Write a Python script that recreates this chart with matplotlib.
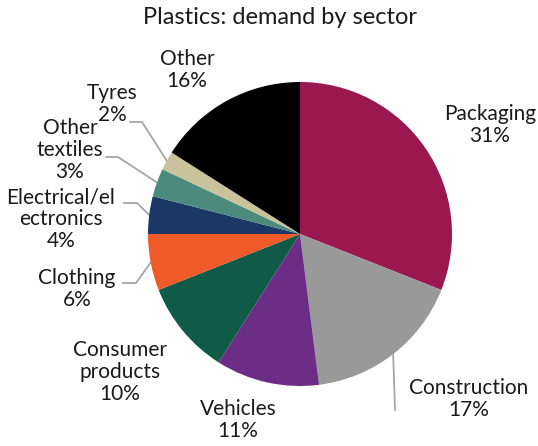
"""Pie chart: plastics demand by sector."""
import numpy as np
from matplotlib import pyplot as plt

sectors = ['Packaging', 'Construction', 'Vehicles', 'Consumer\nproducts', 'Clothing',
           'Electrical/el\nectronics', 'Other\ntextiles', 'Tyres', 'Other']
shares = [31, 17, 11, 10, 6, 4, 3, 2, 16]
colors = ['#9a1750', '#999999', '#6c2d86', '#0f5b48', '#f05a28',
          '#1b3766', '#4b8a7c', '#c9c29b', '#000000']

plt.rcParams['font.family'] = ['Lato', 'DejaVu Sans']

W, H = 538, 446
fig = plt.figure(figsize=(W / 100, H / 100), dpi=100)
ax = fig.add_axes([0, 0, 1, 1])


def py(y):
    """pixel row from top -> axis y"""
    return H - y


cx, cy, r = 300, 234, 152
ax.pie(shares, colors=colors, startangle=90, counterclock=False,
       center=(cx, py(cy)), radius=r, frame=True,
       wedgeprops={'linewidth': 0})
ax.set_xlim(0, W)
ax.set_ylim(0, H)
ax.set_aspect('equal')
ax.axis('off')

# label position (pixels) and leader line elbow
label_pos = {
    0: (490, 125), 1: (469, 399), 2: (238, 420), 3: (120, 372),
    4: (77, 289), 5: (61, 219), 6: (70, 150), 7: (112, 104), 8: (187, 70),
}
leaders = {
    1: [(395, 410)],
    4: [(123, 283), (136, 283)],
    5: [(124, 203), (137, 203)],
    6: [(106, 157), (118, 157)],
    7: [(130, 122), (142, 122)],
}

cum = np.cumsum([0] + shares[:-1])
total = sum(shares)
for i, (name, val) in enumerate(zip(sectors, shares)):
    x, y = label_pos[i]
    ax.text(x, py(y), f'{name}\n{val}%', ha='center', va='center',
            fontsize=15, linespacing=1.12, color='#1a1a1a')
    if i in leaders:
        mid = (cum[i] + val / 2) / total * 360
        ang = np.deg2rad(90 - mid)
        ex, ey = cx + r * np.cos(ang), cy - r * np.sin(ang)
        pts = leaders[i] + [(ex, ey)]
        ax.plot([p[0] for p in pts], [py(p[1]) for p in pts],
                color='#a6a6a6', lw=1.3, zorder=0)

ax.text(280, py(18), 'Plastics: demand by sector', ha='center', va='center',
        fontsize=17, color='#1a1a1a')

fig.savefig('out.png', dpi=100)
